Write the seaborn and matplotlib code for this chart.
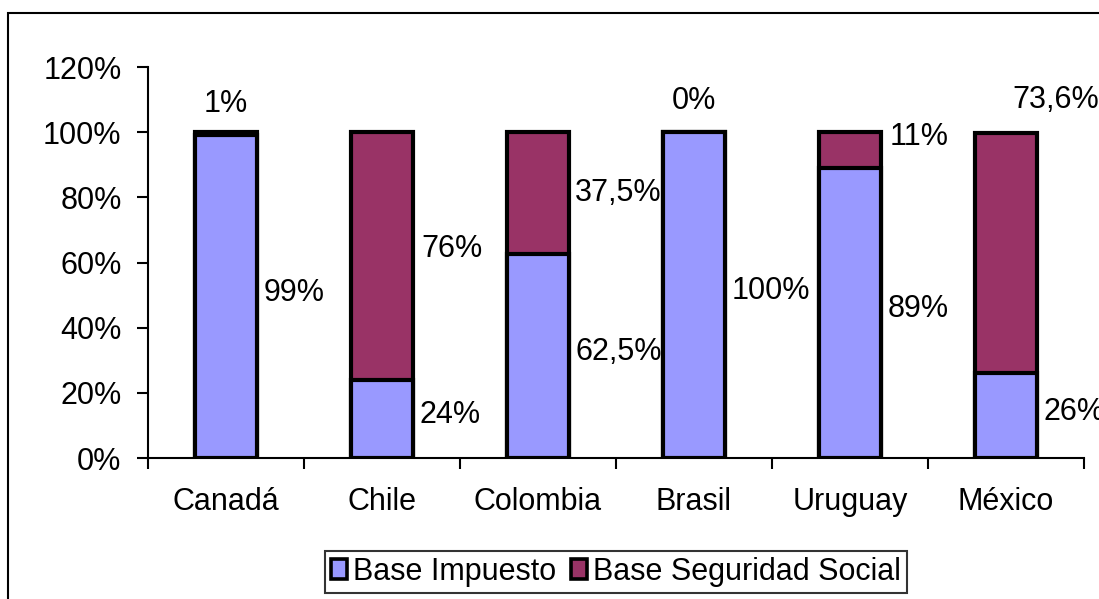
import matplotlib
matplotlib.use("Agg")
import matplotlib.pyplot as plt
from matplotlib.patches import Patch, Rectangle
from matplotlib.ticker import PercentFormatter, FixedLocator
import seaborn as sns
import pandas as pd

# Data
paises = ["Canadá", "Chile", "Colombia", "Brasil", "Uruguay", "México"]
base_impuesto = [99, 24, 62.5, 100, 89, 26]
base_seguridad = [1, 76, 37.5, 0, 11, 73.6]
etiq_impuesto = ["99%", "24%", "62,5%", "100%", "89%", "26%"]
etiq_seguridad = ["1%", "76%", "37,5%", "0%", "11%", "73,6%"]

# Colours
C_IMP = "#9999FF"
C_SEG = "#993366"

sns.set_style("white")
plt.rcParams["font.family"] = ["Liberation Sans", "DejaVu Sans"]
plt.rcParams["text.color"] = "black"
plt.rcParams["xtick.color"] = "black"
plt.rcParams["ytick.color"] = "black"
plt.rcParams["xtick.labelcolor"] = "black"
plt.rcParams["ytick.labelcolor"] = "black"
FS = 22

df = pd.DataFrame({
    "pais": paises,
    "impuesto": base_impuesto,
    "seguridad": base_seguridad,
})
df["total"] = df["impuesto"] + df["seguridad"]

fig = plt.figure(figsize=(10.99, 5.99), dpi=100)
ax = fig.add_axes([148 / 1099, 1 - 458 / 599, (1084 - 148) / 1099, (458 - 67) / 599])

BAR_W = 0.4
EDGE = 3.0
# Stacked bars: full height in the social-security colour, tax base on top of it
sns.barplot(data=df, x="pais", y="total", color=C_SEG, width=BAR_W,
            edgecolor="black", linewidth=EDGE, saturation=1, ax=ax, zorder=3)
sns.barplot(data=df, x="pais", y="impuesto", color=C_IMP, width=BAR_W,
            edgecolor="black", linewidth=EDGE, saturation=1, ax=ax, zorder=4)

ax.set_xlim(-0.5, len(paises) - 0.5)
ax.set_ylim(0, 120)
ax.set_yticks(range(0, 121, 20))
ax.yaxis.set_major_formatter(PercentFormatter(xmax=100, decimals=0))
ax.set_xlabel("")
ax.set_ylabel("")

# Category boundary ticks on the x axis, labels centred between them
ax.xaxis.set_minor_locator(FixedLocator([i - 0.5 for i in range(len(paises) + 1)]))
ax.tick_params(axis="x", which="major", length=0, pad=21, labelsize=FS,
               labelcolor="black")
ax.tick_params(axis="x", which="minor", length=8, width=1.5, direction="out",
               color="black", bottom=True)
ax.tick_params(axis="y", which="major", length=8, width=1.5, direction="out",
               color="black", left=True, pad=11, labelsize=FS, labelcolor="black")

for s in ["top", "right"]:
    ax.spines[s].set_visible(False)
for s in ["left", "bottom"]:
    ax.spines[s].set_color("black")
    ax.spines[s].set_linewidth(1.5)

# Value labels for the tax base, beside each bar at the segment middle
half = BAR_W / 2
for i, (v, t) in enumerate(zip(base_impuesto, etiq_impuesto)):
    ax.annotate(t, xy=(i + half, v / 2), xytext=(6, 4), textcoords="offset pixels",
                ha="left", va="center", fontsize=FS, color="black",
                annotation_clip=False)

# Value labels for the social-security base
seg_offsets = [
    ("center", 0.0, "top", 0, 28),
    ("left", half, "mid", 8, 7),
    ("left", half, "mid", 6, 0),
    ("center", 0.0, "top", 0, 31),
    ("left", half, "mid", 8, 13),
    ("center", 0.0, "top", 50, 33),
]
for i, (v, t) in enumerate(zip(base_seguridad, etiq_seguridad)):
    ha, dx, anchor, ox, oy = seg_offsets[i]
    top = base_impuesto[i] + v
    y = top if anchor == "top" else base_impuesto[i] + v / 2
    ax.annotate(t, xy=(i + dx, y), xytext=(ox, oy), textcoords="offset pixels",
                ha=ha, va="center", fontsize=FS, color="black", annotation_clip=False)

# Legend
handles = [
    Patch(facecolor=C_IMP, edgecolor="black", linewidth=2.6, label="Base Impuesto"),
    Patch(facecolor=C_SEG, edgecolor="black", linewidth=2.6, label="Base Seguridad Social"),
]
leg = fig.legend(handles=handles, loc="center", bbox_to_anchor=(616 / 1099, 1 - 572 / 599),
                 ncol=2, fontsize=FS, frameon=True, fancybox=False, shadow=False,
                 edgecolor="black", handlelength=0.5, handleheight=0.65,
                 handletextpad=0.2, columnspacing=0.5, borderpad=0.2, borderaxespad=0)
leg.get_frame().set_linewidth(1.5)
for txt in leg.get_texts():
    txt.set_color("black")

# Outer chart frame
fig.patches.append(Rectangle((8 / 1099, -0.05), 1.2, 1 - 13 / 599 + 0.05,
                             transform=fig.transFigure, fill=False,
                             edgecolor="black", linewidth=1.5, zorder=0))

fig.savefig("out.png", dpi=100, facecolor="white")
